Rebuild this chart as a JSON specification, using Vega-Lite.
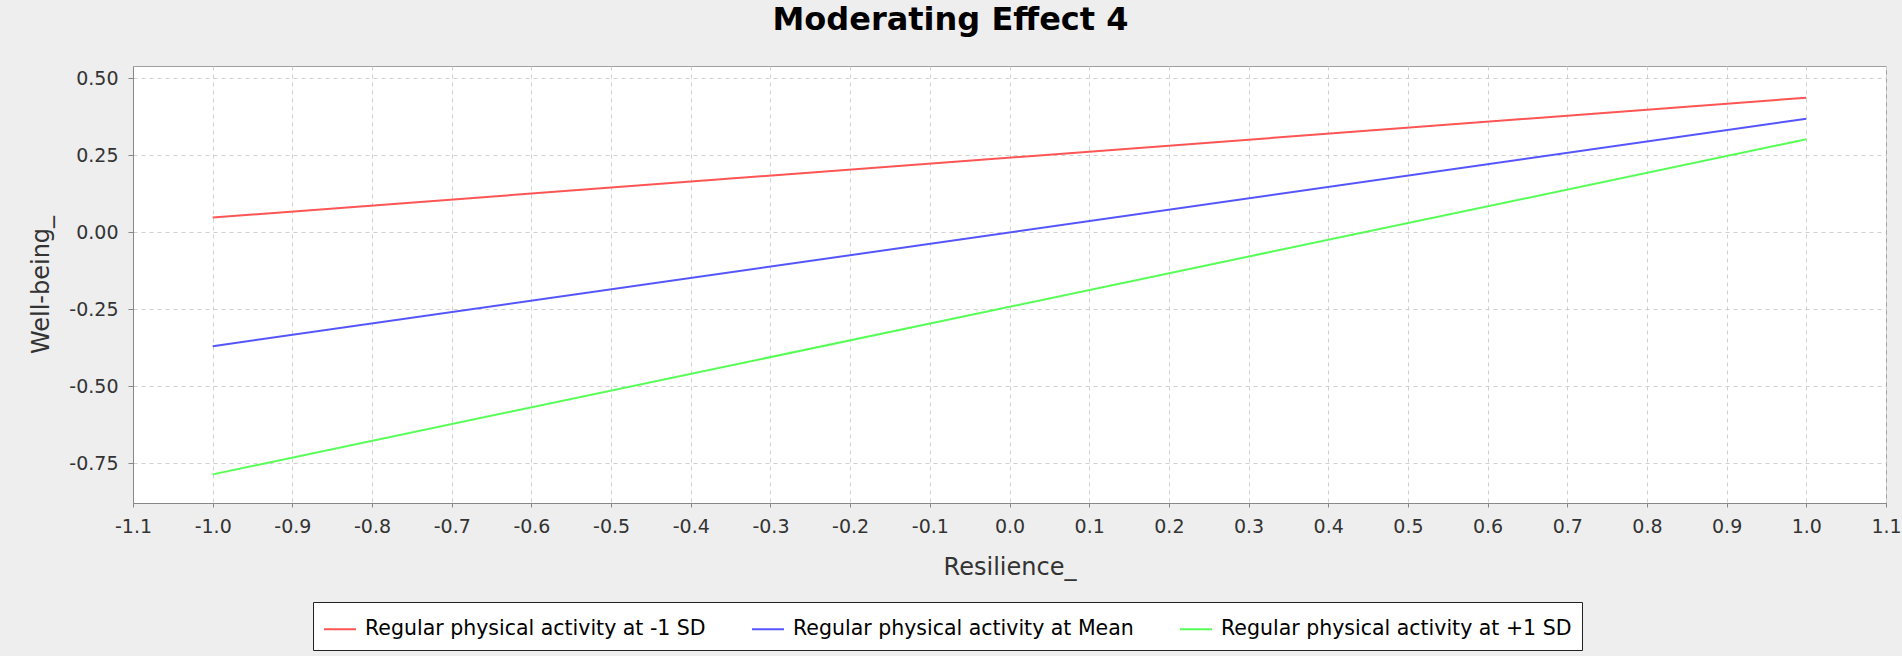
{
  "$schema": "https://vega.github.io/schema/vega-lite/v6.json",
  "width": 1753,
  "height": 437,
  "autosize": {"type": "none"},
  "padding": {"left": 133, "top": 66, "right": 16, "bottom": 153},
  "background": "#eeeeee",
  "title": {
    "text": "Moderating Effect 4",
    "font": "DejaVu Sans",
    "fontSize": 32,
    "fontWeight": "bold",
    "color": "#000000",
    "anchor": "middle",
    "baseline": "alphabetic",
    "offset": 4,
    "dx": -59
  },
  "data": {
    "values": [
      {"series": "Regular physical activity at -1 SD", "Resilience": -1.0, "Wellbeing": 0.048},
      {"series": "Regular physical activity at -1 SD", "Resilience": 1.0, "Wellbeing": 0.437},
      {"series": "Regular physical activity at Mean", "Resilience": -1.0, "Wellbeing": -0.370},
      {"series": "Regular physical activity at Mean", "Resilience": 1.0, "Wellbeing": 0.369},
      {"series": "Regular physical activity at +1 SD", "Resilience": -1.0, "Wellbeing": -0.786},
      {"series": "Regular physical activity at +1 SD", "Resilience": 1.0, "Wellbeing": 0.302}
    ]
  },
  "mark": {"type": "line", "strokeWidth": 2, "clip": true},
  "encoding": {
    "x": {
      "field": "Resilience",
      "type": "quantitative",
      "scale": {"domain": [-1.1, 1.1], "nice": false, "zero": false},
      "axis": {
        "title": "Resilience_",
        "values": [-1.1, -1.0, -0.9, -0.8, -0.7, -0.6, -0.5, -0.4, -0.3, -0.2, -0.1, 0, 0.1, 0.2, 0.3, 0.4, 0.5, 0.6, 0.7, 0.8, 0.9, 1.0, 1.1],
        "labelExpr": "replace(format(datum.value, '.1f'), '\u2212', '-')",
        "tickSize": 4,
        "labelPadding": 10,
        "titlePadding": 19
      }
    },
    "y": {
      "field": "Wellbeing",
      "type": "quantitative",
      "scale": {"domain": [-0.879, 0.54], "nice": false, "zero": false},
      "axis": {
        "title": "Well-being_",
        "values": [-0.75, -0.5, -0.25, 0, 0.25, 0.5],
        "labelExpr": "replace(format(datum.value, '.2f'), '\u2212', '-')",
        "tickSize": 5,
        "labelPadding": 10,
        "titlePadding": 15
      }
    },
    "color": {
      "field": "series",
      "type": "nominal",
      "scale": {
        "domain": ["Regular physical activity at -1 SD", "Regular physical activity at Mean", "Regular physical activity at +1 SD"],
        "range": ["#ff5555", "#5555ff", "#55ff55"]
      },
      "legend": {
        "title": null,
        "orient": "none",
        "legendX": 180,
        "legendY": 536,
        "direction": "horizontal",
        "symbolType": "stroke",
        "symbolSize": 1024,
        "symbolStrokeWidth": 2,
        "labelFont": "DejaVu Sans",
        "labelFontSize": 20.5,
        "labelColor": "#000000",
        "labelOffset": 8,
        "labelLimit": 600,
        "columnPadding": 42,
        "padding": 10,
        "fillColor": "#ffffff",
        "strokeColor": "#222222"
      }
    }
  },
  "config": {
    "view": {"fill": "#ffffff", "stroke": "#a0a0a0", "strokeWidth": 1},
    "axis": {
      "labelFont": "DejaVu Sans",
      "labelFontSize": 19,
      "labelColor": "#333333",
      "titleFont": "DejaVu Sans",
      "titleFontSize": 24,
      "titleFontWeight": "normal",
      "titleColor": "#333333",
      "domainColor": "#888888",
      "tickColor": "#888888",
      "gridColor": "#d0d0d0",
      "gridDash": [4, 4],
      "gridWidth": 1,
      "labelFlush": false,
      "labelOverlap": false,
      "labelBound": false
    }
  }
}
